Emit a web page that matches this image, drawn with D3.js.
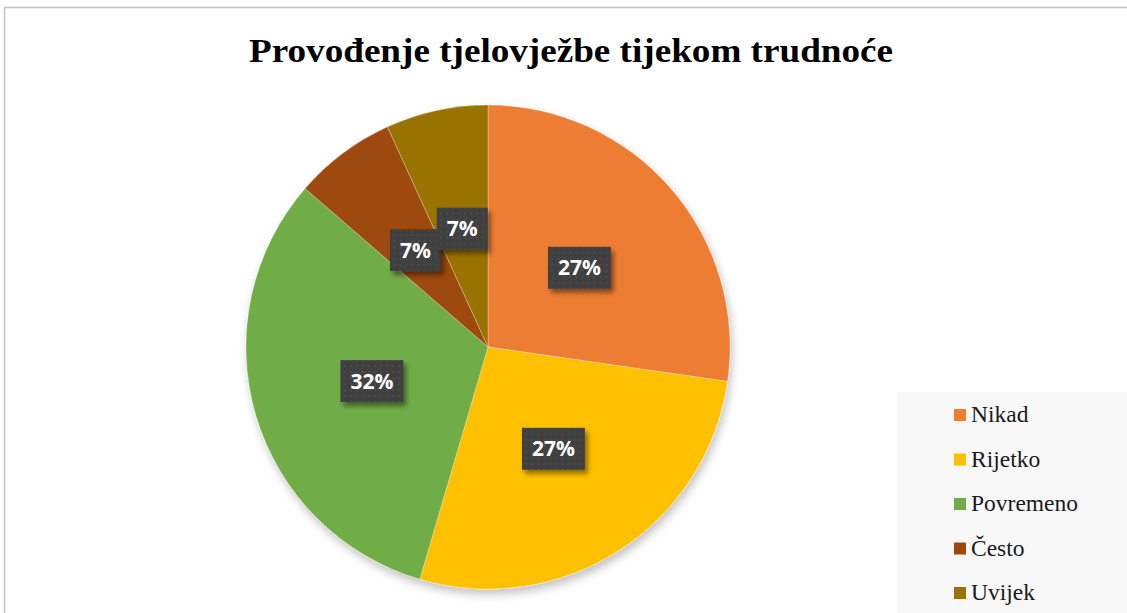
<!DOCTYPE html>
<html>
<head>
<meta charset="utf-8">
<script src="https://cdn.jsdelivr.net/npm/d3@7"></script>
<style>
  body { margin: 0; background: #fff; }
  svg { display: block; }
</style>
</head>
<body>
<div id="chart"></div>
<script>
// chart data
const categories = ["Nikad", "Rijetko", "Povremeno", "Često", "Uvijek"];
const values = [12, 12, 14, 3, 3];
const colors = ["#ED7D31", "#FFC000", "#70AD47", "#9E480E", "#997300"];
const title = "Provođenje tjelovježbe tijekom trudnoće";

const width = 1127, height = 613;

const svg = d3.select("#chart").append("svg")
    .attr("width", width)
    .attr("height", height);

const defs = svg.append("defs");

// soft shadow for the pie
const pieShadow = defs.append("filter").attr("id", "pieShadow")
    .attr("x", "-10%").attr("y", "-10%").attr("width", "130%").attr("height", "130%");
pieShadow.append("feGaussianBlur").attr("in", "SourceAlpha").attr("stdDeviation", 5);
pieShadow.append("feOffset").attr("dx", 2).attr("dy", 5).attr("result", "ob");
pieShadow.append("feComponentTransfer").append("feFuncA").attr("type", "linear").attr("slope", 0.25);
let m = pieShadow.append("feMerge");
m.append("feMergeNode");
m.append("feMergeNode").attr("in", "SourceGraphic");

// shadow for the label boxes
const boxShadow = defs.append("filter").attr("id", "boxShadow")
    .attr("x", "-30%").attr("y", "-30%").attr("width", "170%").attr("height", "170%");
boxShadow.append("feGaussianBlur").attr("in", "SourceAlpha").attr("stdDeviation", 2.5);
boxShadow.append("feOffset").attr("dx", 3).attr("dy", 4).attr("result", "ob");
boxShadow.append("feComponentTransfer").append("feFuncA").attr("type", "linear").attr("slope", 0.45);
m = boxShadow.append("feMerge");
m.append("feMergeNode");
m.append("feMergeNode").attr("in", "SourceGraphic");

// dotted dark fill of the label boxes
const pat = defs.append("pattern").attr("id", "dots")
    .attr("patternUnits", "userSpaceOnUse").attr("width", 6).attr("height", 6);
pat.append("rect").attr("width", 6).attr("height", 6).attr("fill", "#404040");
pat.append("rect").attr("x", 2).attr("y", 2).attr("width", 2).attr("height", 2).attr("fill", "#4c4c4c");

// chart area frame
svg.append("rect")
    .attr("x", 4.5).attr("y", 7.5)
    .attr("width", width + 20).attr("height", height + 20)
    .attr("fill", "#fff")
    .attr("stroke", "#c4c4c4")
    .attr("stroke-width", 1.5);

// title
svg.append("text")
    .attr("x", 571)
    .attr("y", 62)
    .attr("text-anchor", "middle")
    .attr("textLength", 644)
    .attr("lengthAdjust", "spacingAndGlyphs")
    .style("font-family", "'Liberation Serif', 'Times New Roman', serif")
    .style("font-weight", "bold")
    .style("font-size", "33px")
    .attr("fill", "#000")
    .text(title);

// pie
const cx = 488, cy = 347, r = 242;
const pie = d3.pie().sort(null).value(d => d);
const arc = d3.arc().innerRadius(0).outerRadius(r);
const arcs = pie(values);

const g = svg.append("g").attr("transform", "translate(" + cx + "," + cy + ")");

g.append("g").attr("filter", "url(#pieShadow)")
    .selectAll("path")
    .data(arcs)
    .enter()
    .append("path")
    .attr("d", arc)
    .attr("fill", (d, i) => colors[i])
    .attr("stroke", "rgba(255,255,255,0.35)")
    .attr("stroke-width", 0.8);

// percentage labels
const total = d3.sum(values);
const labels = g.selectAll(".lbl")
    .data(arcs)
    .enter()
    .append("g")
    .attr("class", "lbl")
    .attr("transform", d => "translate(" + arc.centroid(d) + ")");

labels.each(function(d) {
    const lg = d3.select(this);
    const txt = Math.round(d.value / total * 100) + "%";
    const box = lg.append("rect")
        .attr("fill", "url(#dots)")
        .attr("filter", "url(#boxShadow)");
    const t = lg.append("text")
        .attr("text-anchor", "middle")
        .attr("dy", "0.36em")
        .style("font-family", "'Open Sans', sans-serif")
        .style("font-weight", "bold")
        .style("font-size", "21px")
        .attr("fill", "#fff")
        .text(txt);
    const w = t.node().getComputedTextLength() + 20;
    const h = 42;
    box.attr("x", -w / 2).attr("y", -h / 2).attr("width", w).attr("height", h);
});

// legend
svg.append("rect")
    .attr("x", 897).attr("y", 392)
    .attr("width", 240).attr("height", 240)
    .attr("fill", "#f8f8f8");

const legY = d3.scalePoint().domain(categories).range([415, 593]);

const leg = svg.selectAll(".leg")
    .data(categories)
    .enter()
    .append("g")
    .attr("class", "leg")
    .attr("transform", d => "translate(954," + legY(d) + ")");

leg.append("rect")
    .attr("x", 0).attr("y", -6)
    .attr("width", 12).attr("height", 12)
    .attr("fill", (d, i) => colors[i]);

leg.append("text")
    .attr("x", 17)
    .attr("y", 7)
    .style("font-family", "'Liberation Serif', 'Times New Roman', serif")
    .style("font-size", "23.5px")
    .attr("fill", "#1a1a1a")
    .text(d => d);
</script>
</body>
</html>
